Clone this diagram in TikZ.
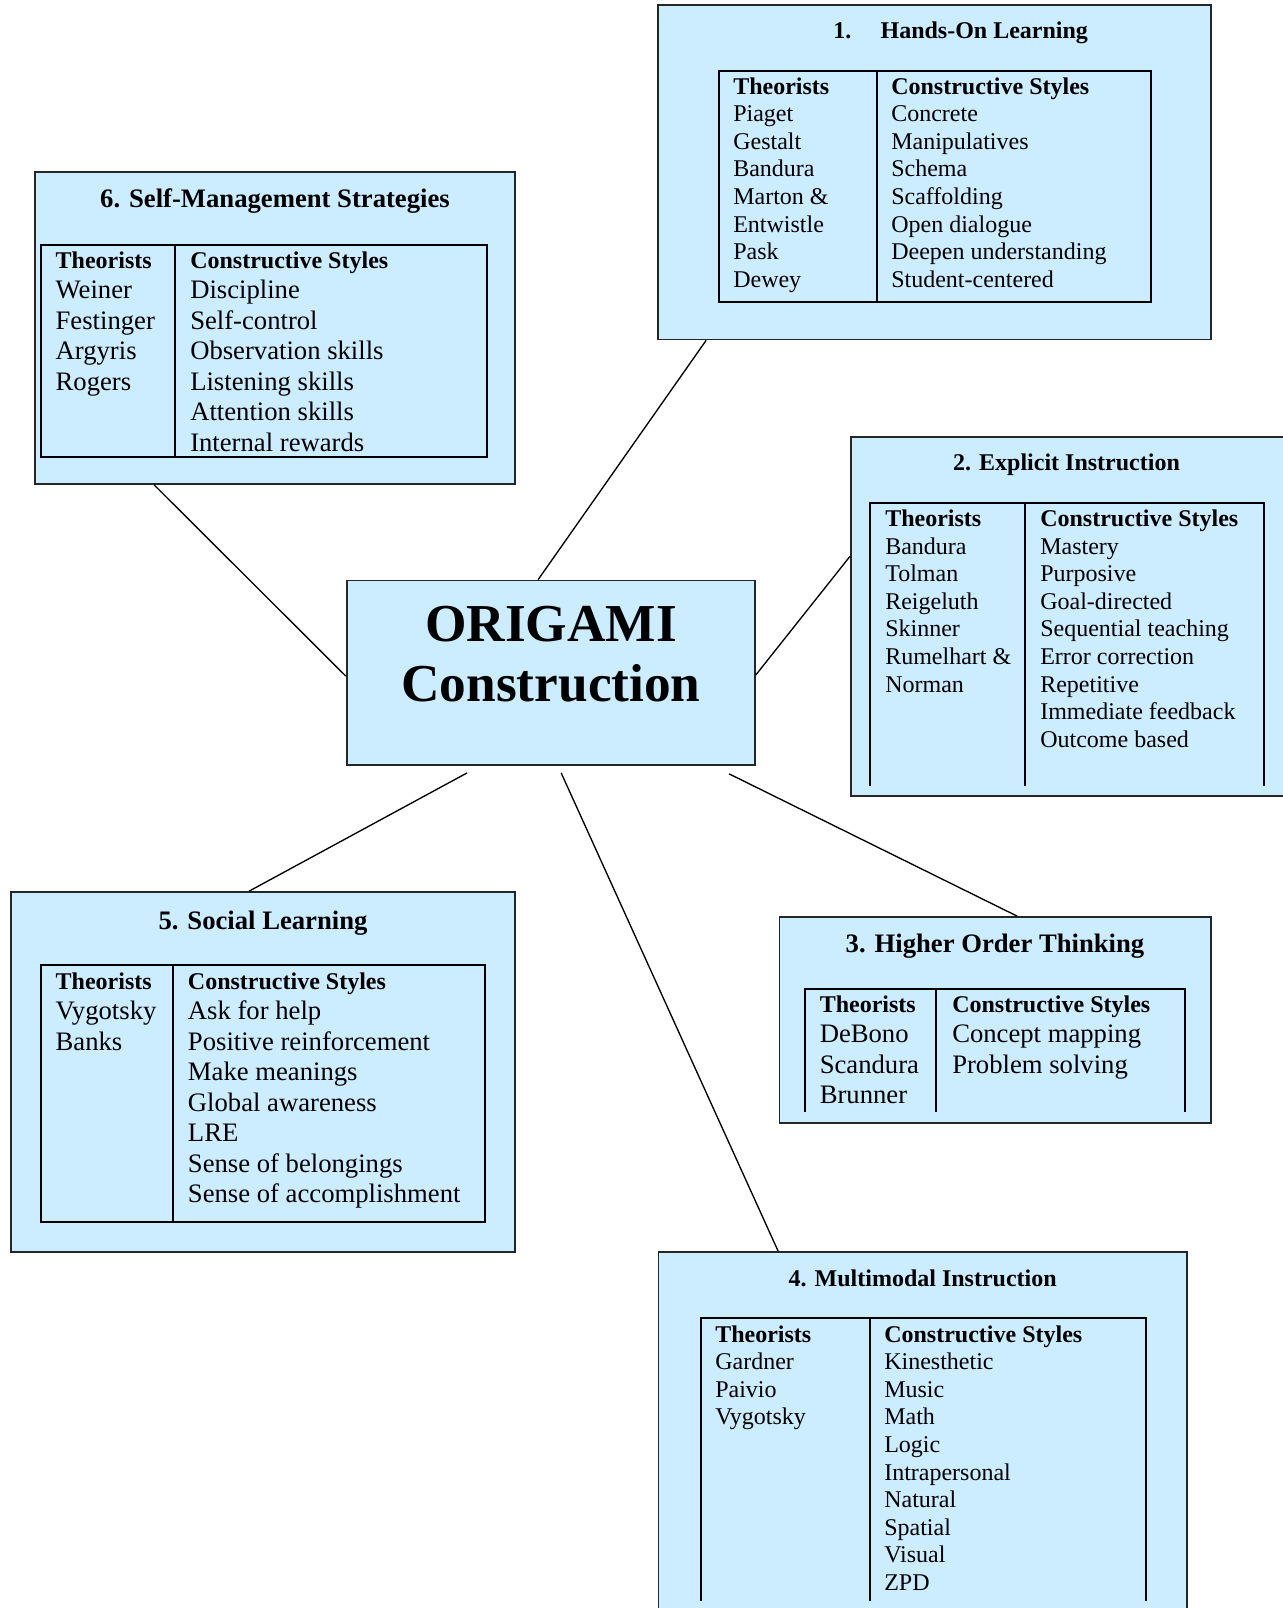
\documentclass[tikz,border=0pt]{standalone}
\usepackage{fontspec}
\setmainfont{Liberation Serif}
\usetikzlibrary{fit,calc}
\definecolor{panelblue}{RGB}{204,236,255}
\newcommand\colhead[1]{{\fontsize{18}{20.7}\selectfont\bfseries #1}}

\begin{document}
\begin{tikzpicture}[x=0.75pt,y=-0.75pt,
	panel/.style={draw=black!85,line width=1.3pt,fill=panelblue,inner sep=0pt},
	grid/.style={line width=1.5pt},
	link/.style={line width=1pt},
	small/.style={font=\fontsize{18}{20.7}\selectfont,inner sep=0pt},
	large/.style={font=\fontsize{20}{22.85}\selectfont,inner sep=0pt}]
\useasboundingbox (0,0) rectangle (1282,1608);

% centre
\node[panel,fit={(346.7,580.5) (754.8,765)}] (hub) {};
\node[inner sep=0pt,anchor=base,font=\fontsize{40}{45}\selectfont\bfseries] (hub-text) at (551,641.7)
	{\begin{tabular}[t]{@{}c@{}}ORIGAMI\\Construction\end{tabular}};

% 1
\node[panel,fit={(658,5) (1211,339.5)}] (hands) {};
\node[small,anchor=base west] (hands-title) at (833,38.5) {\textbf{1.\hspace{22pt}Hands-On Learning}};
\draw[grid] (719,71) rectangle (1151,302.5) (877,71) -- (877,302.5);
\node[small,anchor=base west] (hands-who) at (733,94.2)
	{\begin{tabular}[t]{@{}l@{}}\colhead{Theorists}\\Piaget\\Gestalt\\Bandura\\Marton \&\\Entwistle\\Pask\\Dewey\end{tabular}};
\node[small,anchor=base west] (hands-how) at (891,94.2)
	{\begin{tabular}[t]{@{}l@{}}\colhead{Constructive Styles}\\Concrete\\Manipulatives\\Schema\\Scaffolding\\Open dialogue\\Deepen understanding\\Student-centered\end{tabular}};

% 2
\node[panel,fit={(851,437) (1290,796)}] (explicit) {};
\node[small,anchor=base] (explicit-title) at (1066.5,470) {\textbf{2. Explicit Instruction}};
\draw[grid] (870,785.6) |- (1264,502.5) -- (1264,785.6) (1024.6,502.5) -- (1024.6,785.6);
\node[small,anchor=base west] (explicit-who) at (885,526.5)
	{\begin{tabular}[t]{@{}l@{}}\colhead{Theorists}\\Bandura\\Tolman\\Reigeluth\\Skinner\\Rumelhart \&\\Norman\end{tabular}};
\node[small,anchor=base west] (explicit-how) at (1040,526.5)
	{\begin{tabular}[t]{@{}l@{}}\colhead{Constructive Styles}\\Mastery\\Purposive\\Goal-directed\\Sequential teaching\\Error correction\\Repetitive\\Immediate feedback\\Outcome based\end{tabular}};

% 3
\node[panel,fit={(779.5,917) (1211,1123)}] (higher) {};
\node[large,anchor=base] (higher-title) at (995,952) {\textbf{3. Higher Order Thinking}};
\draw[grid] (805,1111.8) |- (1184.6,988.7) -- (1184.6,1111.8) (936.4,988.7) -- (936.4,1111.8);
\node[large,anchor=base west] (higher-who) at (819.5,1012.3)
	{\begin{tabular}[t]{@{}l@{}}\colhead{Theorists}\\DeBono\\Scandura\\Brunner\end{tabular}};
\node[large,anchor=base west] (higher-how) at (952,1012.3)
	{\begin{tabular}[t]{@{}l@{}}\colhead{Constructive Styles}\\Concept mapping\\Problem solving\end{tabular}};

% 4
\node[panel,fit={(658.5,1252) (1187,1615)}] (multi) {};
\node[small,anchor=base] (multi-title) at (922.7,1286) {\textbf{4. Multimodal Instruction}};
\draw[grid] (700.5,1601) |- (1145.6,1318) -- (1145.6,1601) (869.7,1318) -- (869.7,1601);
\node[small,anchor=base west] (multi-who) at (715,1342)
	{\begin{tabular}[t]{@{}l@{}}\colhead{Theorists}\\Gardner\\Paivio\\Vygotsky\end{tabular}};
\node[small,anchor=base west] (multi-how) at (884,1342)
	{\begin{tabular}[t]{@{}l@{}}\colhead{Constructive Styles}\\Kinesthetic\\Music\\Math\\Logic\\Intrapersonal\\Natural\\Spatial\\Visual\\ZPD\end{tabular}};

% 5
\node[panel,fit={(11.3,892) (515,1252)}] (social) {};
\node[large,anchor=base] (social-title) at (263,929) {\textbf{5. Social Learning}};
\draw[grid] (41,965) rectangle (485,1221.5) (173,965) -- (173,1221.5);
\node[large,anchor=base west] (social-who) at (55.4,989.3)
	{\begin{tabular}[t]{@{}l@{}}\colhead{Theorists}\\Vygotsky\\Banks\end{tabular}};
\node[large,anchor=base west] (social-how) at (187.7,989.3)
	{\begin{tabular}[t]{@{}l@{}}\colhead{Constructive Styles}\\Ask for help\\Positive reinforcement\\Make meanings\\Global awareness\\LRE\\Sense of belongings\\Sense of accomplishment\end{tabular}};

% 6
\node[panel,fit={(35,172) (515,484)}] (selfman) {};
\node[large,anchor=base] (selfman-title) at (275,208) {\textbf{6. Self-Management Strategies}};
\draw[grid] (41,245) rectangle (487,457) (175,245) -- (175,457);
\node[large,anchor=base west] (selfman-who) at (55.4,268.5)
	{\begin{tabular}[t]{@{}l@{}}\colhead{Theorists}\\Weiner\\Festinger\\Argyris\\Rogers\end{tabular}};
\node[large,anchor=base west] (selfman-how) at (190,268.5)
	{\begin{tabular}[t]{@{}l@{}}\colhead{Constructive Styles}\\Discipline\\Self-control\\Observation skills\\Listening skills\\Attention skills\\Internal rewards\end{tabular}};

% links
\draw[link] ($(hands.south west)+(49,0)$) -- ($(hub.north west)+(192.3,0)$);
\draw[link] ($(explicit.north west)+(0,120)$) -- ($(hub.north east)+(0,95.5)$);
\draw[link] ($(hub.south west)+(383.3,8)$) -- ($(higher.north west)+(238.5,0)$);
\draw[link] ($(hub.south west)+(215.3,7)$) -- ($(multi.north west)+(120.5,0)$);
\draw[link] ($(hub.south west)+(121.3,7)$) -- ($(social.north west)+(238.7,0)$);
\draw[link] ($(selfman.south west)+(120,0)$) -- ($(hub.north west)+(0,96.5)$);
\end{tikzpicture}
\end{document}
